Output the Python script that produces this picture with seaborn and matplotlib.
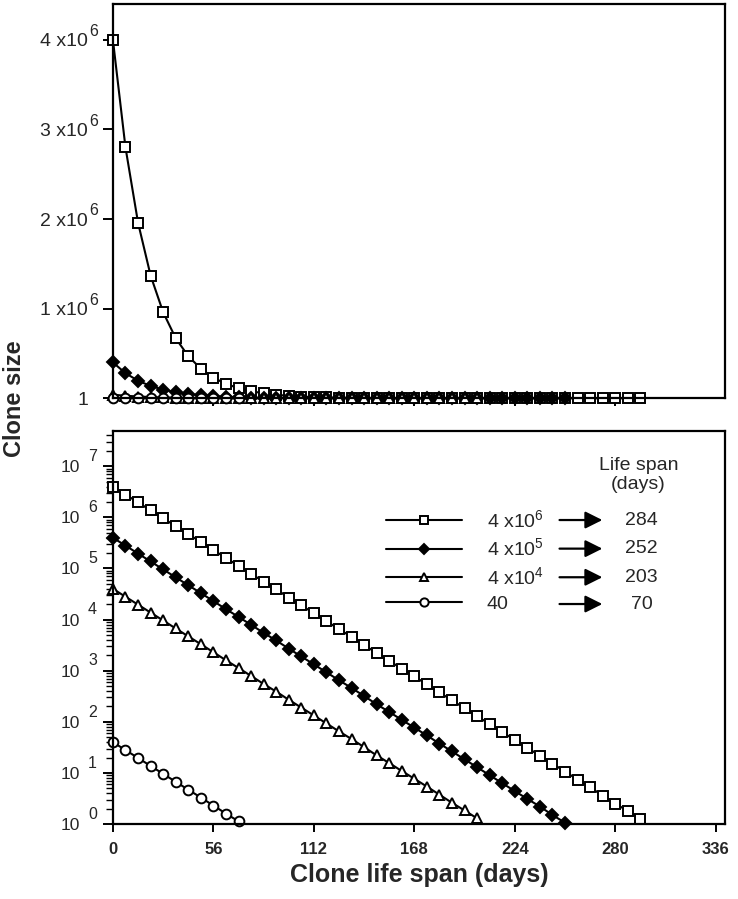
import numpy as np
import pandas as pd
import matplotlib
matplotlib.use('Agg')
import matplotlib.pyplot as plt
import seaborn as sns
from matplotlib.lines import Line2D
from matplotlib.ticker import FixedLocator, LogLocator, NullFormatter

# clone sizes, one point per week
squares = [4.0e6, 2.8e6, 1.96e6, 1.37e6, 9.6e5, 6.7e5, 4.7e5, 3.3e5, 2.3e5, 1.6e5,
           1.13e5, 7.9e4, 5.5e4, 3.9e4, 2.7e4, 1.9e4, 1.33e4, 9.3e3, 6.5e3, 4.6e3,
           3.2e3, 2.2e3, 1.56e3, 1.09e3, 770, 540, 375, 263, 184, 129,
           90, 63, 44, 31, 21.6, 15.2, 10.6, 7.4, 5.2, 3.6,
           2.5, 1.8, 1.25]
diamonds = [4.0e5, 2.8e5, 1.96e5, 1.37e5, 9.6e4, 6.7e4, 4.7e4, 3.3e4, 2.3e4, 1.6e4,
            1.13e4, 7.9e3, 5.5e3, 3.9e3, 2.7e3, 1.9e3, 1.33e3, 930, 650, 460,
            320, 220, 156, 109, 77, 54, 37.5, 26.3, 18.4, 12.9,
            9.0, 6.3, 4.4, 3.1, 2.2, 1.5, 1.06]
triangles = [4.0e4, 2.8e4, 1.96e4, 1.37e4, 9.6e3, 6.7e3, 4.7e3, 3.3e3, 2.3e3, 1.6e3,
             1.13e3, 790, 550, 390, 270, 190, 133, 93, 65, 46,
             32, 22, 15.6, 10.9, 7.7, 5.4, 3.75, 2.6, 1.84, 1.29]
circles = [40, 28, 19.6, 13.7, 9.6, 6.7, 4.7, 3.3, 2.3, 1.6, 1.13]

start_labels = ['4 x10$^{6}$', '4 x10$^{5}$', '4 x10$^{4}$', '40']
life_spans = ['284', '252', '203', '70']
x_ticks = [0, 56, 112, 168, 224, 280, 336]
top_yticks = [0, 1e6, 2e6, 3e6, 4e6]
top_ylabels = ['1', '1 x10', '2 x10', '3 x10', '4 x10']
top_exps = ['', '6', '6', '6', '6']
log_exps = list(range(8))

sns.set_theme(style='ticks')
plt.rcParams['font.family'] = ['Liberation Sans', 'DejaVu Sans']
plt.rcParams['mathtext.fontset'] = 'custom'
plt.rcParams['mathtext.rm'] = 'Liberation Sans'
plt.rcParams['mathtext.default'] = 'regular'

fig = plt.figure(figsize=(7.38, 8.99), dpi=100)
ax1 = fig.add_axes([0.153, 0.557, 0.829, 0.4385])
ax2 = fig.add_axes([0.153, 0.0834, 0.829, 0.4372])

styles = [(squares, 's', 'white', 7),
          (diamonds, 'D', 'black', 6.3),
          (triangles, '^', 'white', 7.5),
          (circles, 'o', 'white', 7)]

for ax in (ax1, ax2):
    for vals, mk, fc, ms in styles:
        df = pd.DataFrame({'day': np.arange(len(vals)) * 7, 'size': vals})
        sns.lineplot(data=df, x='day', y='size', ax=ax, color='black', lw=1.5,
                     marker=mk, markersize=ms, markerfacecolor=fc,
                     markeredgecolor='black', markeredgewidth=1.4, clip_on=False)
    for s in ax.spines.values():
        s.set_linewidth(1.6)
        s.set_color('black')
    ax.set_xlim(0, 341)
    ax.set_xlabel('')
    ax.set_ylabel('')
    ax.tick_params(axis='both', which='major', direction='out', width=1.4, color='black')
    ax.tick_params(axis='x', length=6)
    ax.tick_params(axis='y', length=7)

# top panel, linear scale
ax1.set_ylim(0, 4.4e6)
ax1.set_yticks(top_yticks)
ax1.set_yticklabels(top_ylabels, fontsize=14)
ax1.tick_params(axis='y', pad=11)
for yv, e in zip(top_yticks, top_exps):
    ax1.annotate(e, xy=(0, yv), xycoords=ax1.get_yaxis_transform(), xytext=(-11, 6),
                 textcoords='offset points', ha='right', va='center', fontsize=11.5)
ax1.set_xticks(x_ticks[1:-1])
ax1.set_xticklabels([])

# bottom panel, log scale
ax2.set_yscale('log')
ax2.set_ylim(1, 4.9e7)
ax2.yaxis.set_major_locator(FixedLocator([10.0 ** k for k in log_exps]))
ax2.yaxis.set_minor_locator(LogLocator(base=10, subs=np.arange(2, 10)))
ax2.yaxis.set_minor_formatter(NullFormatter())
ax2.set_yticklabels(['10'] * len(log_exps), fontsize=12.5)
ax2.tick_params(axis='y', pad=16.5)
ax2.tick_params(axis='y', which='minor', direction='out', length=5, width=1, color='black')
for k in log_exps:
    ax2.annotate(str(k), xy=(0, 10.0 ** k), xycoords=ax2.get_yaxis_transform(),
                 xytext=(-11.5, 7), textcoords='offset points', ha='right', va='center',
                 fontsize=11.5)
ax2.set_xticks(x_ticks)
ax2.set_xticklabels([str(t) for t in x_ticks], fontsize=12, fontweight='bold')
ax2.tick_params(axis='x', pad=7)
ax2.set_xlabel('Clone life span (days)', fontsize=18, fontweight='bold', labelpad=4)

fig.text(0.019, 0.556, 'Clone size', rotation=90, fontsize=17, fontweight='bold',
         ha='center', va='center')

# legend: handle, start size, arrow, life span
handles = [Line2D([], [], color='black', lw=1.5, marker=mk, markersize=ms * 0.85,
                  markerfacecolor=fc, markeredgecolor='black', markeredgewidth=1.4)
           for _, mk, fc, ms in styles]
fs = 14
fs_px = fs * 100 / 72.0
target_pitch = 28.0      # pixels between legend rows
target_first = 824 - 520  # first row centre, pixels above the bottom spine
ls = 0.3
anchor_y = 0.84
for _ in range(3):
    leg = ax2.legend(handles, start_labels, loc='upper left',
                     bbox_to_anchor=(0.446, anchor_y), frameon=False, fontsize=fs,
                     handlelength=3.9, handletextpad=1.3, labelspacing=ls,
                     borderpad=0, borderaxespad=0, numpoints=1)
    fig.canvas.draw()
    cs = [(t.get_window_extent().y0 + t.get_window_extent().y1) / 2 for t in leg.get_texts()]
    pitch = (cs[0] - cs[3]) / 3
    ls += (target_pitch - pitch) / fs_px
    bottom_px = ax2.transAxes.transform((0, 0))[1]
    anchor_y += (target_first - (cs[0] - bottom_px)) / (ax2.bbox.height)

ax2.text(0.859, 0.888, 'Life span\n(days)', transform=ax2.transAxes, fontsize=fs,
         ha='center', va='center', linespacing=1.15)

inv = ax2.transAxes.inverted()
for t, span in zip(leg.get_texts(), life_spans):
    bb = t.get_window_extent()
    yc = inv.transform((0, (bb.y0 + bb.y1) / 2))[1]
    ax2.annotate('', xy=(0.80, yc), xytext=(0.730, yc), xycoords='axes fraction',
                 arrowprops=dict(arrowstyle='-|>', color='black', lw=1.6,
                                 mutation_scale=26, shrinkA=0, shrinkB=0))
    ax2.text(0.864, yc, span, transform=ax2.transAxes, fontsize=fs,
             ha='center', va='center')

fig.savefig('out.png', dpi=100, facecolor='white')
